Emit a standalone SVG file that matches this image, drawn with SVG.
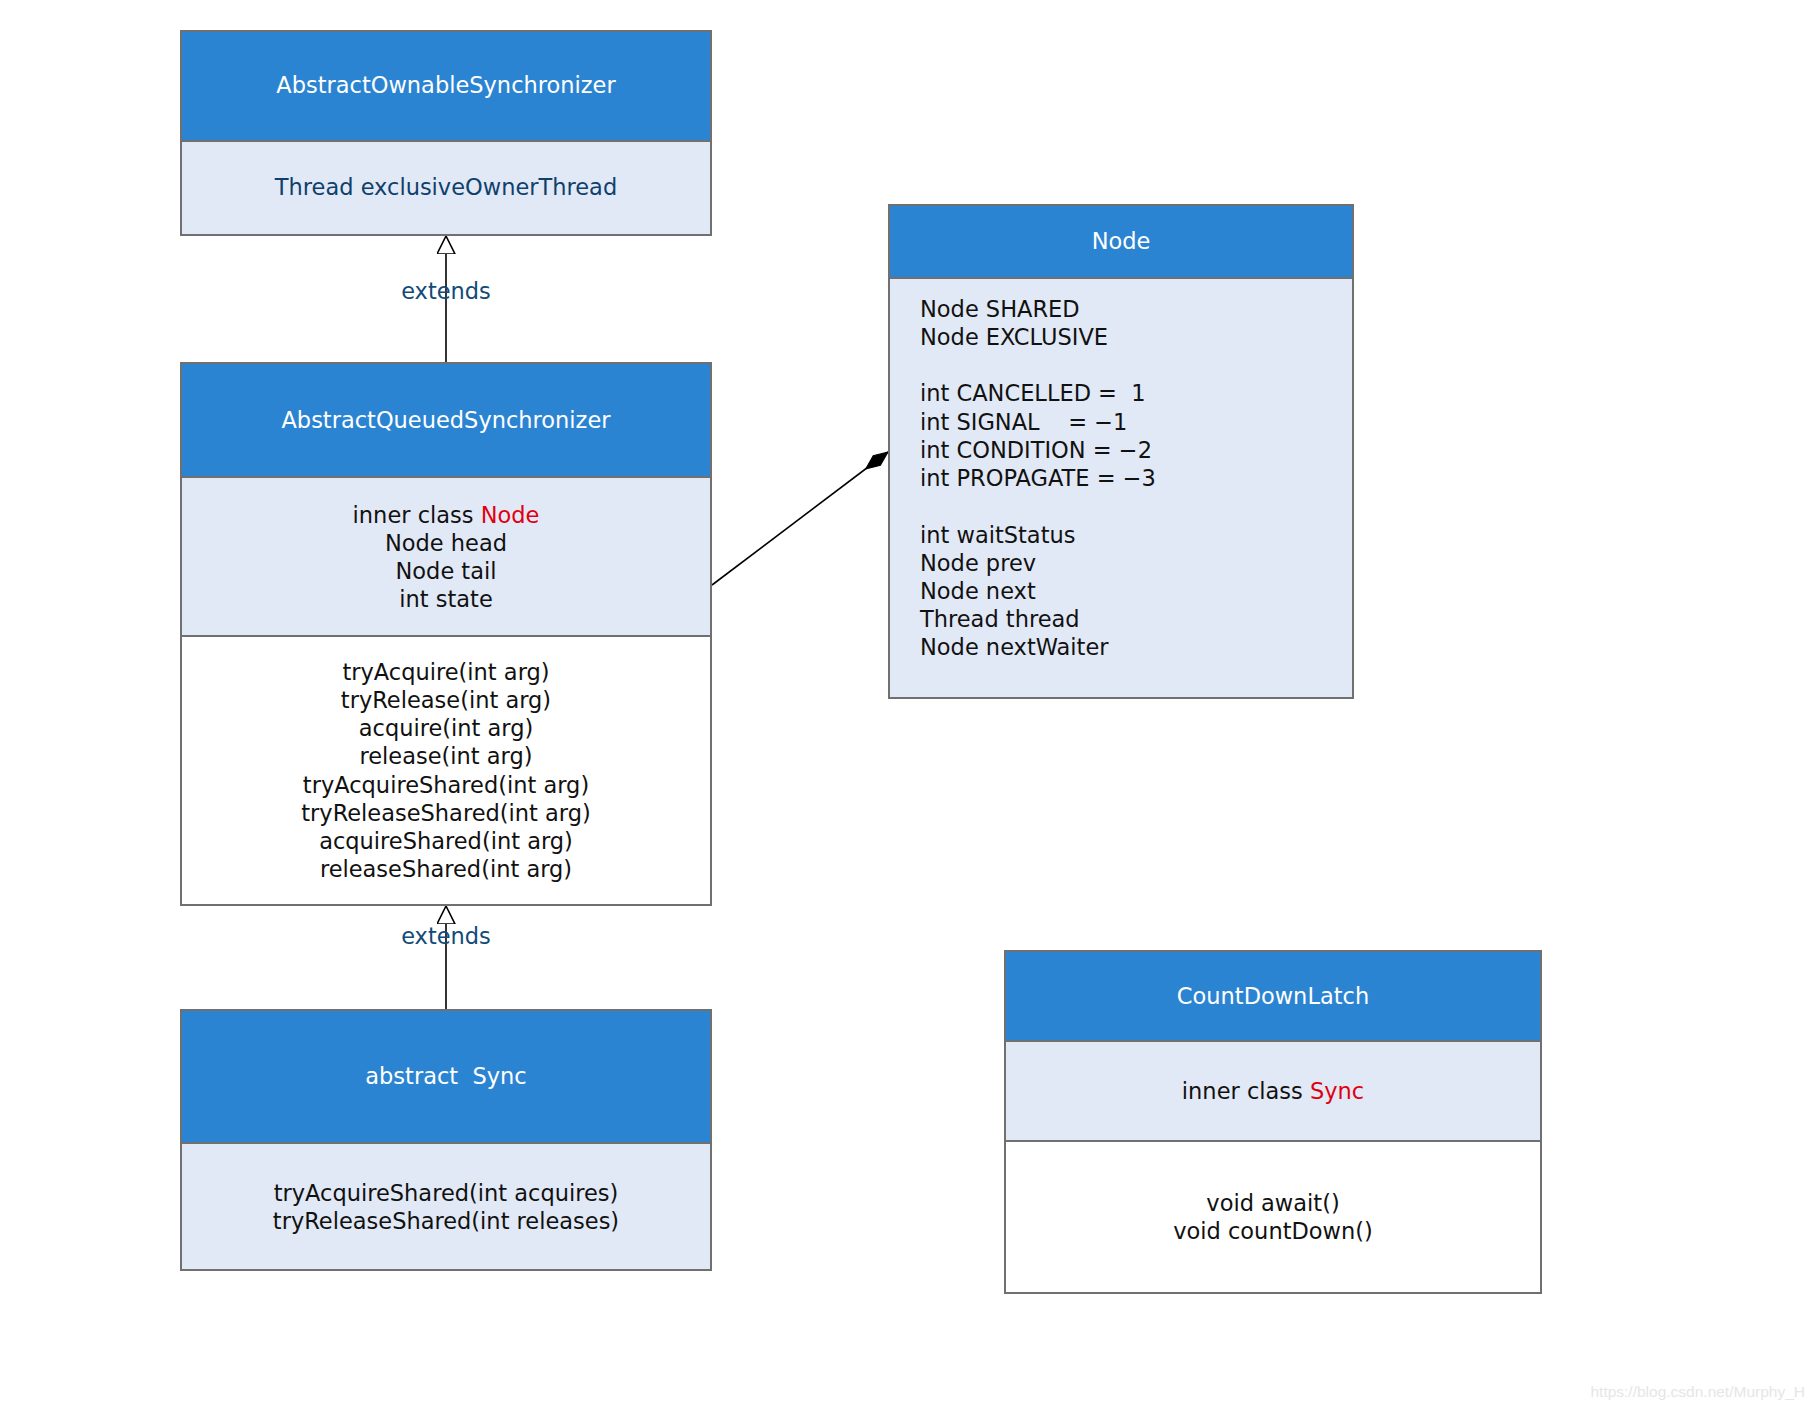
<svg xmlns="http://www.w3.org/2000/svg" width="1814" height="1410" viewBox="0 0 1814 1410">
<style>
.hdr{fill:#2b84d2;stroke:#707070;stroke-width:2}
.fld{fill:#e2e9f6;stroke:#707070;stroke-width:2}
.mth{fill:#ffffff;stroke:#707070;stroke-width:2}
text{font-family:"DejaVu Sans","Noto Sans",sans-serif;font-size:22.5px}
.t{fill:#ffffff;text-anchor:middle}
.c{fill:#111111;text-anchor:middle}
.l{fill:#111111}
.blue{fill:#0f406c;text-anchor:middle}
.red{fill:#e0000f}
.lbl{fill:#124a78;text-anchor:middle}
.conn{stroke:#000;stroke-width:1.6;fill:none}
</style>
<defs>
<marker id="tri" markerUnits="userSpaceOnUse" markerWidth="22" markerHeight="22" refX="18" refY="9" orient="auto" viewBox="0 0 22 22">
<path d="M0,0 L18,9 L0,18 Z" fill="#ffffff" stroke="#000" stroke-width="1.6"/>
</marker>
<marker id="dia" markerUnits="userSpaceOnUse" markerWidth="32" markerHeight="18" refX="28" refY="8" orient="auto" viewBox="0 0 32 18">
<path d="M0,8 L14,2 L28,8 L14,14 Z" fill="#000" stroke="#000" stroke-width="1"/>
</marker>
</defs>
<rect width="1814" height="1410" fill="#ffffff"/>

<g id="connectors">
<line class="conn" x1="446" y1="363" x2="446" y2="236" marker-end="url(#tri)"/>
<line class="conn" x1="446" y1="1010" x2="446" y2="906" marker-end="url(#tri)"/>
<line class="conn" x1="712" y1="585" x2="888" y2="452" marker-end="url(#dia)"/>
<text class="lbl" x="446" y="299">extends</text>
<text class="lbl" x="446" y="944">extends</text>
</g>

<g id="AbstractOwnableSynchronizer">
<rect class="hdr" x="181" y="31" width="530" height="110"/>
<rect class="fld" x="181" y="141" width="530" height="94"/>
<text class="t" x="446" y="93">AbstractOwnableSynchronizer</text>
<text class="blue" x="446" y="195">Thread exclusiveOwnerThread</text>
</g>

<g id="AbstractQueuedSynchronizer">
<rect class="hdr" x="181" y="363" width="530" height="114"/>
<rect class="fld" x="181" y="477" width="530" height="159"/>
<rect class="mth" x="181" y="636" width="530" height="269"/>
<text class="t" x="446" y="428">AbstractQueuedSynchronizer</text>
<text class="c" x="446" y="523">inner class <tspan class="red">Node</tspan></text>
<text class="c" x="446" y="551">Node head</text>
<text class="c" x="446" y="579">Node tail</text>
<text class="c" x="446" y="607">int state</text>
<text class="c" x="446" y="680">tryAcquire(int arg)</text>
<text class="c" x="446" y="708">tryRelease(int arg)</text>
<text class="c" x="446" y="736">acquire(int arg)</text>
<text class="c" x="446" y="764">release(int arg)</text>
<text class="c" x="446" y="793">tryAcquireShared(int arg)</text>
<text class="c" x="446" y="821">tryReleaseShared(int arg)</text>
<text class="c" x="446" y="849">acquireShared(int arg)</text>
<text class="c" x="446" y="877">releaseShared(int arg)</text>
</g>

<g id="Sync">
<rect class="hdr" x="181" y="1010" width="530" height="133"/>
<rect class="fld" x="181" y="1143" width="530" height="127"/>
<text class="t" x="446" y="1084" xml:space="preserve">abstract  Sync</text>
<text class="c" x="446" y="1201">tryAcquireShared(int acquires)</text>
<text class="c" x="446" y="1229">tryReleaseShared(int releases)</text>
</g>

<g id="Node">
<rect class="hdr" x="889" y="205" width="464" height="73"/>
<rect class="fld" x="889" y="278" width="464" height="420"/>
<text class="t" x="1121" y="249">Node</text>
<text class="l" x="920" y="317">Node SHARED</text>
<text class="l" x="920" y="345">Node EXCLUSIVE</text>
<text class="l" x="920" y="401" xml:space="preserve">int CANCELLED =  1</text>
<text class="l" x="920" y="430" xml:space="preserve">int SIGNAL    = −1</text>
<text class="l" x="920" y="458">int CONDITION = −2</text>
<text class="l" x="920" y="486">int PROPAGATE = −3</text>
<text class="l" x="920" y="543">int waitStatus</text>
<text class="l" x="920" y="571">Node prev</text>
<text class="l" x="920" y="599">Node next</text>
<text class="l" x="920" y="627">Thread thread</text>
<text class="l" x="920" y="655">Node nextWaiter</text>
</g>

<g id="CountDownLatch">
<rect class="hdr" x="1005" y="951" width="536" height="90"/>
<rect class="fld" x="1005" y="1041" width="536" height="100"/>
<rect class="mth" x="1005" y="1141" width="536" height="152"/>
<text class="t" x="1273" y="1004">CountDownLatch</text>
<text class="c" x="1273" y="1099">inner class <tspan class="red">Sync</tspan></text>
<text class="c" x="1273" y="1211">void await()</text>
<text class="c" x="1273" y="1239">void countDown()</text>
</g>

<text x="1805" y="1397" text-anchor="end" style="font-family:'Liberation Sans',Arial,sans-serif;font-size:15.5px;fill:#e6e6e6">https://blog.csdn.net/Murphy_H</text>
</svg>
